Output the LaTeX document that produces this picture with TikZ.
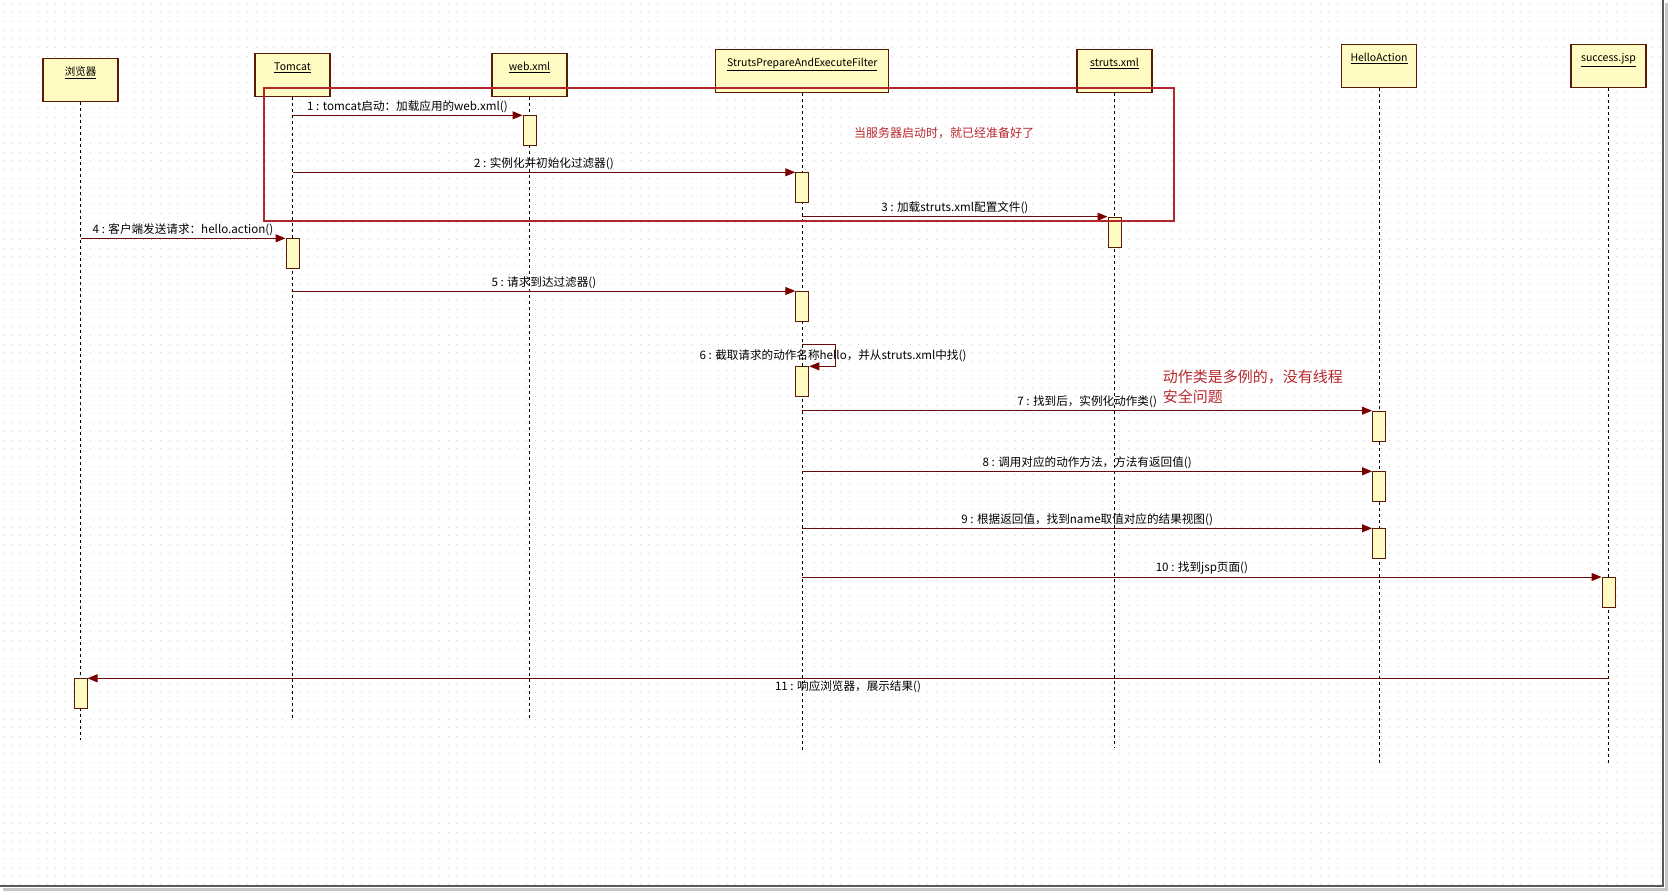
\documentclass[tikz,border=0pt]{standalone}
\usepackage{fontspec}
\setmainfont{Noto Sans CJK SC}
\usepackage{xcolor}
\usepackage{tikz}
\usetikzlibrary{arrows.meta, positioning, calc}
\definecolor{boxfill}{HTML}{FFFBC2}
\definecolor{boxline}{HTML}{5A1A05}
\definecolor{msgline}{HTML}{6A0A0A}
\definecolor{msghead}{HTML}{7A0000}
\definecolor{framered}{HTML}{B3262D}
\definecolor{notered}{HTML}{B8282E}
\definecolor{griddot}{HTML}{D2D2D2}

\begin{document}
\begin{tikzpicture}[
  x=1pt, y=-1pt,
  head/.style={rectangle, draw=boxline, line width=1.1pt, fill=boxfill, minimum width=75pt, minimum height=43pt, inner sep=0pt, text height=8pt, text depth=17pt, anchor=north, font=\fontsize{10.5}{12}\selectfont},
  act/.style={rectangle, draw=boxline, line width=1pt, fill=boxfill, minimum width=13pt, minimum height=30pt, inner sep=0pt, anchor=north},
  lifeline/.style={black, line width=0.8pt, dash pattern=on 3pt off 3pt},
  msg/.style={msgline, line width=1pt, -{Triangle[length=10pt, width=8pt, color=msghead]}},
  lbl/.style={text=black, font=\fontsize{11.6}{13}\selectfont, inner sep=2pt},
  note/.style={text=notered, font=\fontsize{12}{14}\selectfont},
  bignote/.style={text=notered, align=left, font=\fontsize{15}{19.5}\selectfont}
]
  \useasboundingbox (0,0) rectangle (1668,891);
  \fill[white] (0,0) rectangle (1668,891);

  % dotted paper
  \foreach \i in {0,...,101}
    \draw[griddot, line width=1pt, dash pattern=on 1pt off 7.72pt] (3,4+\i*8.72) -- (1662,4+\i*8.72);
  \draw[gray!45, line width=3pt] (3,889) -- (1666.5,889) -- (1666.5,3);
  \draw[black!65, line width=1.5pt] (0,886) -- (1663,886) -- (1663,0);

  % lifeline heads
  \node[head] (browser) at (80.5,58.3) {\underline{浏览器}};
  \node[head] (tomcat) at (292.5,53.3) {\underline{Tomcat}};
  \node[head] (webxml) at (529.5,53.3) {\underline{web.xml}};
  \node[head, minimum width=173pt] (filter) at (802.3,49.3) {\underline{StrutsPrepareAndExecuteFilter}};
  \node[head] (struts) at (1114.5,49.3) {\underline{struts.xml}};
  \node[head] (hello) at (1379,44.3) {\underline{HelloAction}};
  \node[head] (success) at (1608.5,44.3) {\underline{success.jsp}};

  \foreach \who/\ends in {browser/740, tomcat/721, webxml/720, filter/750, struts/748, hello/764, success/763}
    \draw[lifeline] (\who.south) -- (\who.south |- 0,\ends);

  % activations
  \node[act] (a1) at (webxml.south |- 0,115.3) {};
  \node[act] (a2) at (filter.south |- 0,172.3) {};
  \node[act] (a3) at (struts.south |- 0,216.7) {};
  \node[act] (a4) at (tomcat.south |- 0,238.3) {};
  \node[act] (a5) at (filter.south |- 0,291) {};
  \node[act] (a6) at (filter.south |- 0,366.3) {};
  \node[act] (a7) at (hello.south |- 0,410.7) {};
  \node[act] (a8) at (hello.south |- 0,471.3) {};
  \node[act] (a9) at (hello.south |- 0,528.3) {};
  \node[act] (a10) at (success.south |- 0,577) {};
  \node[act] (a11) at (browser.south |- 0,678.3) {};

  % messages
  \draw[msg] (tomcat.south |- a1.north) -- (a1.north west) node[midway, above, lbl] {1 : tomcat启动：加载应用的web.xml()};
  \draw[msg] (tomcat.south |- a2.north) -- (a2.north west) node[midway, above, lbl] {2 : 实例化并初始化过滤器()};
  \draw[msg] (filter.south |- a3.north) -- (a3.north west) node[midway, above, lbl] {3 : 加载struts.xml配置文件()};
  \draw[msg] (browser.south |- a4.north) -- (a4.north west) node[midway, above, lbl] {4 : 客户端发送请求：hello.action()};
  \draw[msg] (tomcat.south |- a5.north) -- (a5.north west) node[midway, above, lbl] {5 : 请求到达过滤器()};
  \draw[msg] (filter.south |- 0,344.3) -- ++(33.4,0) |- (a6.north east);
  \node[lbl] (l6) at (833,355.3) {6 : 截取请求的动作名称hello，并从struts.xml中找()};
  \draw[msg] (filter.south |- a7.north) -- (a7.north west) node[midway, above, lbl] {7 : 找到后，实例化动作类()};
  \draw[msg] (filter.south |- a8.north) -- (a8.north west) node[midway, above, lbl] {8 : 调用对应的动作方法，方法有返回值()};
  \draw[msg] (filter.south |- a9.north) -- (a9.north west) node[midway, above, lbl] {9 : 根据返回值，找到name取值对应的结果视图()};
  \draw[msg] (filter.south |- a10.north) -- (a10.north west) node[midway, above, lbl] {10 : 找到jsp页面()};
  \draw[msg] (success.south |- a11.north) -- (a11.north east) node[midway, below, lbl] {11 : 响应浏览器，展示结果()};

  % startup frame and notes
  \draw[framered, line width=2.2pt] (263.6,87.7) rectangle (1174.3,221);
  \node[note] (startnote) at (944,132.7) {当服务器启动时，就已经准备好了};
  \node[bignote, anchor=north west, inner sep=0pt] (actionnote) at (1162.7,370) {动作类是多例的，没有线程\\安全问题};
\end{tikzpicture}
\end{document}
